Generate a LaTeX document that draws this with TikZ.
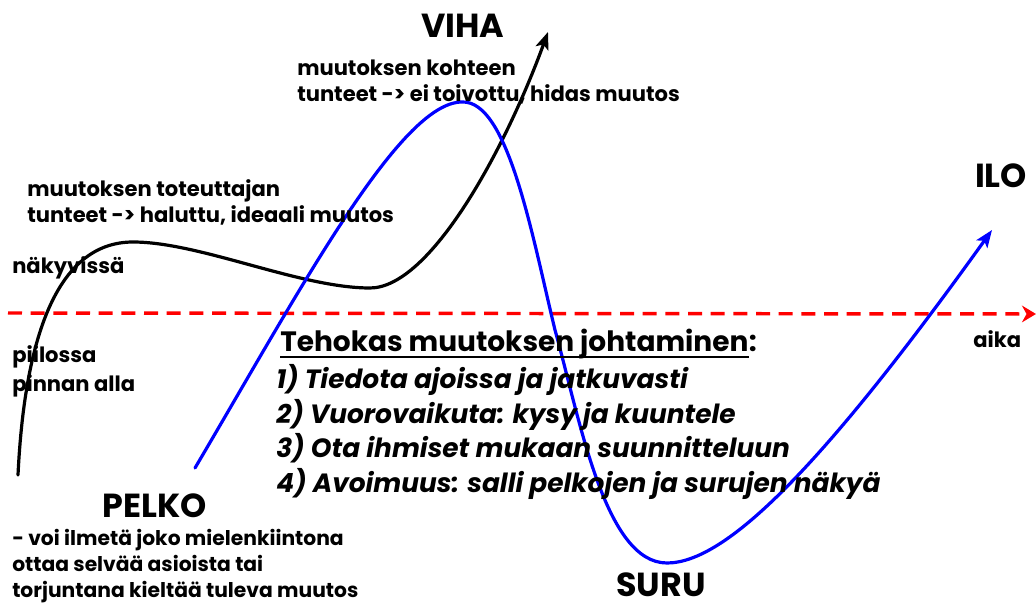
\documentclass[tikz,border=0pt]{standalone}
\usepackage{fontspec}
\setmainfont{Poppins}
\usetikzlibrary{arrows.meta}
\tikzset{
  body/.style={font=\fontsize{15.8}{19}\selectfont\bfseries, inner sep=0pt, anchor=base west},
  pdesc/.style={body, font=\fontsize{15.2}{18}\selectfont\bfseries},
  big/.style={font=\fontsize{25}{29}\selectfont\bfseries, inner sep=0pt, anchor=base},
  itemtxt/.style={font=\fontsize{19.8}{23}\selectfont\bfseries\itshape, inner sep=0pt, anchor=base west},
  titletxt/.style={font=\fontsize{21}{25}\selectfont\bfseries, inner sep=0pt, anchor=base west},
  curve/.style={line width=2.4pt, line cap=round},
}
\begin{document}
\begin{tikzpicture}[x=0.75pt,y=-0.75pt]
\useasboundingbox (0,0) rectangle (1036,606);
% time axis
\coordinate (axs) at (8,313);
\coordinate (axe) at (1036,314);
\draw[red, line width=2.6pt, dash pattern=on 10.5pt off 6.5pt, -{Stealth[length=10.5pt,width=12.5pt]}] (axs) -- (axe);
% black curve
\coordinate (b0) at (18,475);
\coordinate (b1) at (133,242);
\coordinate (b2) at (370,288);
\coordinate (b3) at (548,32);
\draw[curve, black, -{Stealth[length=13pt,width=10pt,inset=3pt]}]
  (b0) .. controls (25,330) and (60,242) .. (b1)
       .. controls (200,242) and (300,288) .. (b2)
       .. controls (430,288) and (505,150) .. (b3);
% blue curve
\coordinate (u0) at (195,468);
\coordinate (u1) at (462,102);
\coordinate (u2) at (555,330);
\coordinate (u3) at (667,563);
\coordinate (u4) at (992,230);
\draw[curve, blue, -{Stealth[length=13pt,width=10pt,inset=3pt]}]
  (u0) .. controls (300,290) and (400,102) .. (u1)
       .. controls (508,100) and (532,235) .. (u2)
       .. controls (580,420) and (605,563) .. (u3)
       .. controls (725,563) and (820,470) .. (u4);
% big labels
\node[big] (viha) at (463,38) {VIHA};
\node[big] (ilo) at (1001,188) {ILO};
\node[big] (suru) at (661,596) {SURU};
\node[big] (pelko) at (155,517) {PELKO};
% body texts
\node[body] (k1) at (297,76) {muutoksen kohteen};
\node[body] (k2) at (297,102) {tunteet -> ei toivottu, hidas muutos};
\node[body] (t1) at (27,197) {muutoksen toteuttajan};
\node[body] (t2) at (27,223) {tunteet -> haluttu, ideaali muutos};
\node[body] (nak) at (12,273) {näkyvissä};
\node[body] (pii) at (12,362) {piilossa};
\node[body] (pin) at (12,391) {pinnan alla};
\node[body] (aika) at (973,347) {aika};
\node[pdesc] (p1) at (12,545) {- voi ilmetä joko mielenkiintona};
\node[pdesc] (p2) at (12,571) {ottaa selvää asioista tai};
\node[pdesc] (p3) at (12,597) {torjuntana kieltää tuleva muutos};
% management list
\node[titletxt] (title) at (280,351) {Tehokas muutoksen johtaminen};
\node[titletxt] (colon) at (title.base east) {:};
\draw[line width=2pt] ([yshift=-4.5pt]title.base west) -- ([yshift=-4.5pt]title.base east);
\node[itemtxt] (i1) at (276,388) {1) Tiedota ajoissa ja jatkuvasti};
\node[itemtxt] (i2) at (276,423) {2) Vuorovaikuta: kysy ja kuuntele};
\node[itemtxt] (i3) at (276,457) {3) Ota ihmiset mukaan suunnitteluun};
\node[itemtxt] (i4) at (276,492) {4) Avoimuus: salli pelkojen ja surujen näkyä};
\end{tikzpicture}
\end{document}
